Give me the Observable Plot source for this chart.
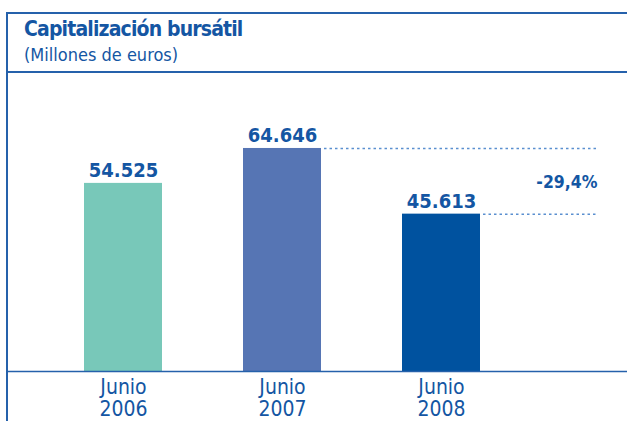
<!DOCTYPE html>
<html>
<head>
<meta charset="utf-8">
<script src="https://cdn.jsdelivr.net/npm/d3@7"></script>
<script src="https://cdn.jsdelivr.net/npm/@observablehq/plot@0.6"></script>
<style>
  html, body { margin: 0; padding: 0; background: #fff; }
  #wrap { position: relative; width: 627px; height: 421px; overflow: hidden; background: #fff;
          font-family: "DejaVu Sans Condensed", "Liberation Sans Narrow", "Roboto Condensed", Roboto, sans-serif; font-stretch: condensed; }
  .hline { position: absolute; left: 6px; right: -10px; height: 0; border-top: 2px solid #2561ab; }
  .vline { position: absolute; left: 6px; top: 12px; bottom: -10px; width: 0; border-left: 2px solid #2561ab; }
  #title { position: absolute; left: 24px; top: 19px; font-size: 21px; line-height: 21px; font-weight: bold; color: #1456a3; white-space: nowrap; letter-spacing: -0.85px; }
  #subtitle { position: absolute; left: 24px; top: 46px; font-size: 18px; line-height: 18px; color: #1456a3; white-space: nowrap; }
  #chart { position: absolute; left: 0; top: 72px; }
</style>
</head>
<body>
<div id="wrap">
  <div class="hline" style="top:12px"></div>
  <div class="hline" style="top:71px"></div>
  <div class="vline"></div>
  <div id="title">Capitalización bursátil</div>
  <div id="subtitle">(Millones de euros)</div>
  <div id="chart"></div>
</div>
<script>
const categories = ["Junio\n2006", "Junio\n2007", "Junio\n2008"];
const values = [54525, 64646, 45613];
const barColors = ["#78c8b9", "#5675b4", "#00529f"];
const changeLabel = "-29,4%";

const blue = "#1456a3";
const fontFamily = "'DejaVu Sans Condensed', 'Liberation Sans Narrow', 'Roboto Condensed', Roboto, sans-serif";
const locale = d3.formatLocale({decimal: ",", thousands: ".", grouping: [3], currency: ["", "€"]});
const fmt = locale.format(",d");

const data = categories.map((c, i) => ({cat: c, value: values[i]}));
const lastCat = categories[categories.length - 1];
const refLines = [data[1], data[2]].map(d => ({...d, end: lastCat}));
const midValue = (values[1] + values[2]) / 2;

const chart = Plot.plot({
  width: 627,
  height: 349,
  marginTop: 23,
  marginBottom: 50,
  marginLeft: 7,
  marginRight: 30,
  style: {fontFamily, background: "transparent"},
  x: {domain: categories, range: [1.7, 561.5], padding: 0.51, axis: null},
  y: {domain: [0, 80000], axis: null},
  color: {domain: categories, range: barColors},
  marks: [
    Plot.barY(data, {x: "cat", y: "value", fill: "cat"}),
    Plot.ruleY(refLines, {x1: "cat", x2: "end", y: "value", stroke: "#5a8fd0", strokeWidth: 1.5, strokeDasharray: "2.5,3", insetLeft: 81, insetRight: -117}),
    Plot.ruleY([0], {stroke: "#2561ab", strokeWidth: 1.5, insetRight: -40}),
    Plot.text(data, {x: "cat", y: "value", text: d => fmt(d.value), dy: -6, lineAnchor: "bottom", fontSize: 20, fontWeight: "bold", fill: blue}),
    Plot.text([changeLabel], {y: () => midValue, text: d => d, frameAnchor: "right", textAnchor: "end", dy: 1, fontSize: 17.5, fontWeight: "bold", fill: blue}),
    Plot.axisX({tickSize: 0, tickPadding: 7, fontSize: 21, fill: blue, lineHeight: 1.05, label: null})
  ]
});
document.getElementById("chart").appendChild(chart);
</script>
</body>
</html>
